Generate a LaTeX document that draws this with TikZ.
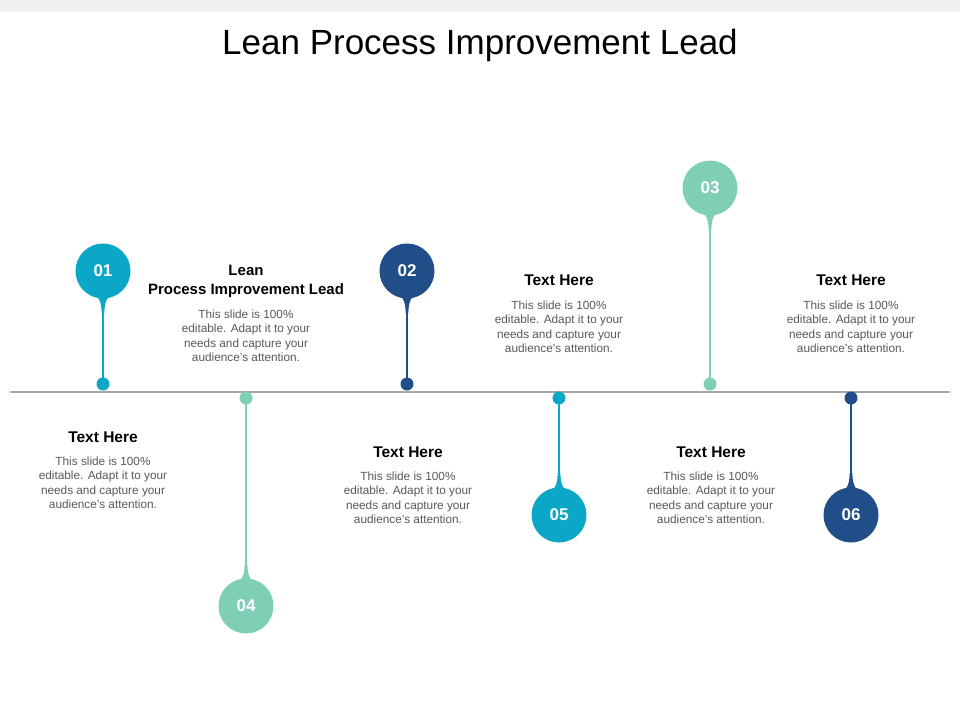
\documentclass[tikz,border=0pt]{standalone}
\usepackage{fontspec}
\setmainfont{Liberation Sans}
\definecolor{cyanc}{HTML}{0BA7C7}
\definecolor{navy}{HTML}{1F4E89}
\definecolor{mint}{HTML}{7FCFB7}
\definecolor{lineg}{HTML}{A6A6A6}
\definecolor{bodyg}{HTML}{595959}
\tikzset{
  x=1pt,y=-1pt,
  head/.style={font=\fontsize{15.5}{18}\selectfont\bfseries,align=center,text=black},
  body/.style={font=\fontsize{11.8}{14.5}\selectfont,align=center,text=bodyg},
  num/.style={font=\fontsize{17}{20}\selectfont\bfseries,text=white},
}
\newcommand{\pin}[5]{% name, x, ycircle, ydot, color
  \fill[#5] (#2-1.4,#4) -- (#2-1.4,#3+40) -- (#2+1.4,#3+40) -- (#2+1.4,#4) -- cycle;
  \fill[#5] (#2,#3) circle (27.5);
  \fill[#5] (#2,#4) circle (6.5);
  \fill[#5] (#2-12,#3+20) .. controls (#2-3,#3+26) and (#2-1.5,#3+32) .. (#2-1.4,#3+42) -- (#2+1.4,#3+42) .. controls (#2+1.5,#3+32) and (#2+3,#3+26) .. (#2+12,#3+20) -- cycle;
  \node[num] (#1) at (#2,#3) {0#1};
}
\newcommand{\pinup}[5]{%
  \fill[#5] (#2-1.4,#4) -- (#2-1.4,#3-40) -- (#2+1.4,#3-40) -- (#2+1.4,#4) -- cycle;
  \fill[#5] (#2,#3) circle (27.5);
  \fill[#5] (#2,#4) circle (6.5);
  \fill[#5] (#2-12,#3-20) .. controls (#2-3,#3-26) and (#2-1.5,#3-32) .. (#2-1.4,#3-42) -- (#2+1.4,#3-42) .. controls (#2+1.5,#3-32) and (#2+3,#3-26) .. (#2+12,#3-20) -- cycle;
  \node[num] (#1) at (#2,#3) {0#1};
}
\begin{document}
\begin{tikzpicture}
\useasboundingbox (0,0) rectangle (960,720);
\fill[white] (0,0) rectangle (960,720);
\fill[black!6] (0,0) rectangle (960,12);
\node[font=\fontsize{35}{40}\selectfont] (title) at (480,45) {Lean Process Improvement Lead};
\draw[lineg,line width=2] (10,392) -- (950,392);
\pin{1}{103}{271}{384}{cyanc}
\pin{2}{407}{271}{384}{navy}
\pin{3}{710}{188}{384}{mint}
\pinup{4}{246}{606}{398}{mint}
\pinup{5}{559}{515}{398}{cyanc}
\pinup{6}{851}{515}{398}{navy}
\node[head,font=\fontsize{15}{19}\selectfont\bfseries] (h1) at (246,281) {Lean\\Process Improvement Lead};
\node[body] (b1) at (246,336) {This slide is 100\%\\editable. Adapt it to your\\needs and capture your\\audience's attention.};
\node[head] (h2) at (559,280) {Text Here};
\node[body] (b2) at (559,327) {This slide is 100\%\\editable. Adapt it to your\\needs and capture your\\audience's attention.};
\node[head] (h3) at (851,280) {Text Here};
\node[body] (b3) at (851,327) {This slide is 100\%\\editable. Adapt it to your\\needs and capture your\\audience's attention.};
\node[head] (h4) at (103,437) {Text Here};
\node[body] (b4) at (103,483) {This slide is 100\%\\editable. Adapt it to your\\needs and capture your\\audience's attention.};
\node[head] (h5) at (408,452) {Text Here};
\node[body] (b5) at (408,498) {This slide is 100\%\\editable. Adapt it to your\\needs and capture your\\audience's attention.};
\node[head] (h6) at (711,452) {Text Here};
\node[body] (b6) at (711,498) {This slide is 100\%\\editable. Adapt it to your\\needs and capture your\\audience's attention.};
\end{tikzpicture}
\end{document}
